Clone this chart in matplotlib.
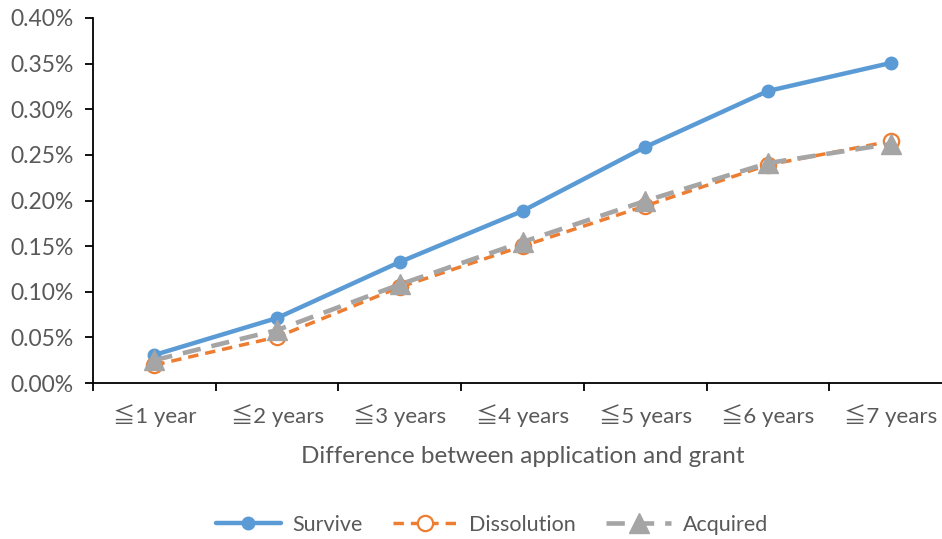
import matplotlib.pyplot as plt
from matplotlib.ticker import FuncFormatter, FixedLocator

plt.rcParams['font.family'] = ['Lato', 'Noto Sans CJK JP', 'DejaVu Sans']

categories = ['≦1 year', '≦2 years', '≦3 years', '≦4 years', '≦5 years', '≦6 years', '≦7 years']
survive = [0.0307, 0.0712, 0.1326, 0.1885, 0.2586, 0.3200, 0.3507]
dissolution = [0.0197, 0.0504, 0.1050, 0.1500, 0.1940, 0.2390, 0.2650]
acquired = [0.0250, 0.0580, 0.1080, 0.1545, 0.1995, 0.2410, 0.2620]

text_col = '#595959'
x = list(range(len(categories)))

fig = plt.figure(figsize=(9.42, 5.39), dpi=100)
ax = fig.add_axes([93 / 942, 1 - 383 / 539, 859 / 942, 365 / 539])

ax.plot(x, survive, color='#5B9BD5', lw=3.2, marker='o', ms=9,
        solid_capstyle='round', label='Survive', zorder=3)
ax.plot(x, dissolution, color='#ED7D31', lw=2.5, ls=(0, (3, 2)), marker='o', ms=11,
        mfc='white', mec='#ED7D31', mew=1.6, label='Dissolution', zorder=4)
ax.plot(x, acquired, color='#A5A5A5', lw=3.3, ls=(0, (4, 2.4)), marker='^', ms=14,
        mfc='#A5A5A5', mec='#A5A5A5', label='Acquired', zorder=5)

ax.set_xlim(-0.5, 6.5)
ax.set_ylim(0, 0.40)
ax.set_yticks([i * 0.05 for i in range(9)])
ax.yaxis.set_major_formatter(FuncFormatter(lambda v, p: f'{v:.2f}%'))

# category labels centred, tick marks between categories
ax.set_xticks(x)
ax.set_xticklabels(categories)
ax.xaxis.set_minor_locator(FixedLocator([i + 0.5 for i in range(-1, 7)]))
ax.tick_params(axis='x', which='major', length=0, pad=15, labelsize=16, labelcolor=text_col)
ax.tick_params(axis='x', which='minor', length=6, width=1.3, direction='out')
ax.tick_params(axis='y', length=6, width=1.3, direction='out', pad=8, labelsize=16.5,
               labelcolor=text_col)

for s in ['top', 'right']:
    ax.spines[s].set_visible(False)
for s in ['left', 'bottom']:
    ax.spines[s].set_linewidth(1.3)
    ax.spines[s].set_color('black')

ax.set_xlabel('Difference between application and grant', fontsize=17.5, color=text_col,
              labelpad=14)

fig.legend(loc='center', bbox_to_anchor=(492 / 942, 1 - 525 / 539), ncol=3, frameon=False,
           fontsize=15.5, labelcolor=text_col, handlelength=3.0, columnspacing=1.4,
           handletextpad=0.55)

fig.savefig('out.png', dpi=100)
